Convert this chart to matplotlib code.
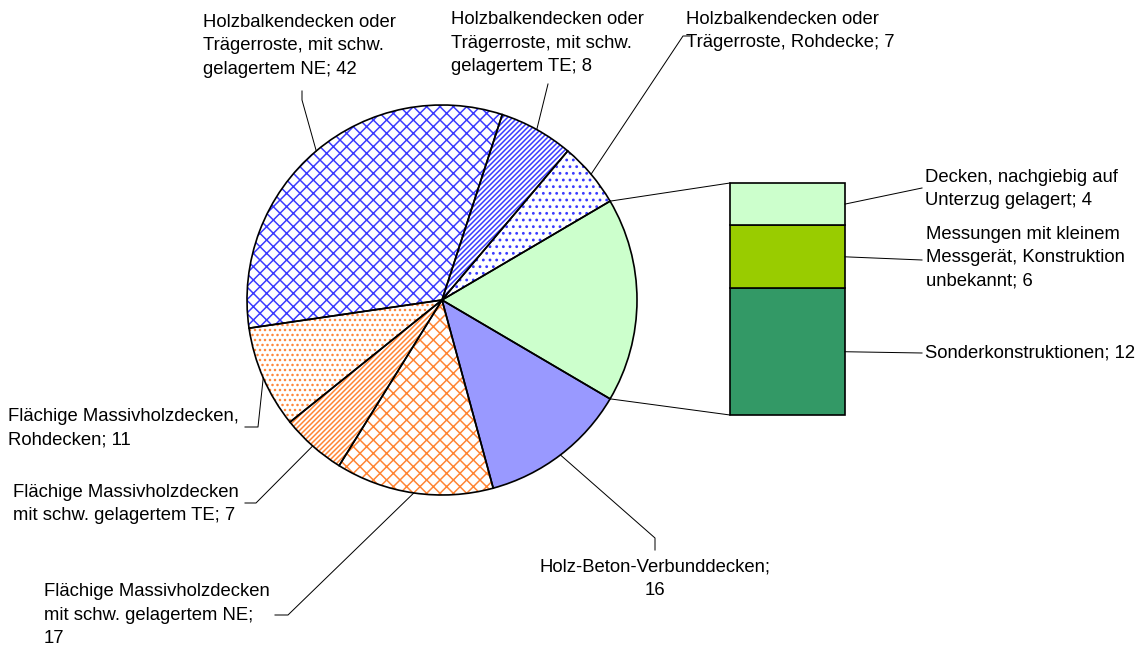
import numpy as np
import matplotlib
matplotlib.use("Agg")
import matplotlib.pyplot as plt

# ---------------- data ----------------
pie_labels = [
    "Sonstige",
    "Holzbalkendecken oder\nTrägerroste, Rohdecke; 7",
    "Holzbalkendecken oder\nTrägerroste, mit schw.\ngelagertem TE; 8",
    "Holzbalkendecken oder\nTrägerroste, mit schw.\ngelagertem NE; 42",
    "Flächige Massivholzdecken,\nRohdecken; 11",
    "Flächige Massivholzdecken\nmit schw. gelagertem TE; 7",
    "Flächige Massivholzdecken\nmit schw. gelagertem NE;\n17",
    "Holz-Beton-Verbunddecken;\n16",
]
bar_labels = [
    "Sonderkonstruktionen; 12",
    "Messungen mit kleinem\nMessgerät, Konstruktion\nunbekannt; 6",
    "Decken, nachgiebig auf\nUnterzug gelagert; 4",
]
bar_values = [12, 6, 4]
pie_values = [sum(bar_values), 7, 8, 42, 11, 7, 17, 16]

# ---------------- style ----------------
BLUE = "#3A3AFF"
ORANGE = "#FF8433"
pie_fill = ["#CCFFCC", "white", "white", "white", "white", "white", "white", "#9999FF"]
pie_hatch = [None, "...", "////////", "xxx", "....", "////////", "xxx", None]
pie_hcol = [None, BLUE, BLUE, BLUE, ORANGE, ORANGE, ORANGE, None]
bar_colors = ["#339966", "#99CC00", "#CCFFCC"]

W, H = 1142, 646
DPI = 120
plt.rcParams["font.family"] = ["Liberation Sans", "DejaVu Sans"]
plt.rcParams["hatch.linewidth"] = 0.9
FS = 11.1
LS = 1.5

fig = plt.figure(figsize=(W / DPI, H / DPI), dpi=DPI)
ax = fig.add_axes([0, 0, 1, 1])


def P(x, y):
    return x, H - y


cx, cy = P(442, 300)
R = 195
other_frac = pie_values[0] / sum(pie_values)
start = -other_frac * 360 / 2

# hatch layer
wedges, _ = ax.pie(pie_values, startangle=start, counterclock=True,
                   center=(cx, cy), radius=R, frame=True,
                   wedgeprops=dict(linewidth=0))
for w, fc, hc, ht in zip(wedges, pie_fill, pie_hcol, pie_hatch):
    w.set_facecolor(fc)
    if ht:
        w.set_hatch(ht)
        w.set_edgecolor(hc)
    else:
        w.set_edgecolor(fc)
    w.set_linewidth(0)

# outline layer
outl, _ = ax.pie(pie_values, startangle=start, counterclock=True,
                 center=(cx, cy), radius=R, frame=True,
                 wedgeprops=dict(fill=False, edgecolor="black", linewidth=1.0))

# ---------------- bar ----------------
bar_x0, bar_w = 730, 115
bar_top, bar_bot = 183, 415
scale = (bar_bot - bar_top) / sum(bar_values)
bottoms = np.concatenate([[0], np.cumsum(bar_values)[:-1]])
ax.bar([P(bar_x0 + bar_w / 2, 0)[0]] * len(bar_values),
       np.array(bar_values) * scale, width=bar_w,
       bottom=H - bar_bot + bottoms * scale, color=bar_colors,
       edgecolor="black", linewidth=1.0)

# connector lines pie -> bar
t1, t2 = np.deg2rad(wedges[0].theta2), np.deg2rad(wedges[0].theta1)
lk = dict(color="black", linewidth=0.6)
ax.plot([cx + R * np.cos(t1), bar_x0], [cy + R * np.sin(t1), H - bar_top], **lk)
ax.plot([cx + R * np.cos(t2), bar_x0], [cy + R * np.sin(t2), H - bar_bot], **lk)


def edge(w):
    a = np.deg2rad((w.theta1 + w.theta2) / 2)
    return cx + R * np.cos(a), cy + R * np.sin(a)


# pie label positions (pixel coords): text anchor, leader path
pie_text = {
    1: dict(xy=(686, 31), ha="left", path=[(683, 36), (690, 36)]),
    2: dict(xy=(451, 43), ha="left", path=[(548, 84)]),
    3: dict(xy=(203, 46), ha="left", path=[(302, 100), (302, 91)]),
    4: dict(xy=(8, 428), ha="left", path=[(258, 427), (245, 427)]),
    5: dict(xy=(13, 504), ha="left", path=[(256, 503), (245, 503)]),
    6: dict(xy=(44, 615), ha="left", path=[(288, 615), (275, 615)]),
    7: dict(xy=(655, 579), ha="center", path=[(655, 538), (655, 550)]),
}
for i, spec in pie_text.items():
    ex, ey = edge(wedges[i])
    xs = [ex] + [p[0] for p in spec["path"]]
    ys = [ey] + [H - p[1] for p in spec["path"]]
    ax.plot(xs, ys, **lk)
    tx, ty = P(*spec["xy"])
    ax.text(tx, ty, pie_labels[i], ha=spec["ha"], va="center",
            multialignment=spec["ha"], fontsize=FS, linespacing=LS)

# bar labels
bar_text = [
    dict(xy=(925, 353), path=[(922, 353)]),
    dict(xy=(926, 258), path=[(922, 260)]),
    dict(xy=(925, 189), path=[(922, 188)]),
]
cum = bar_bot
for lab, v, spec in zip(bar_labels, bar_values, bar_text):
    mid = cum - v * scale / 2
    cum -= v * scale
    px = bar_x0 + bar_w
    xs = [px] + [p[0] for p in spec["path"]]
    ys = [H - mid] + [H - p[1] for p in spec["path"]]
    ax.plot(xs, ys, **lk)
    tx, ty = P(*spec["xy"])
    ax.text(tx, ty, lab, ha="left", va="center", fontsize=FS, linespacing=LS)

ax.set_xlim(0, W)
ax.set_ylim(0, H)
ax.set_aspect("auto")
ax.axis("off")
fig.savefig("out.png", dpi=DPI, facecolor="white")
